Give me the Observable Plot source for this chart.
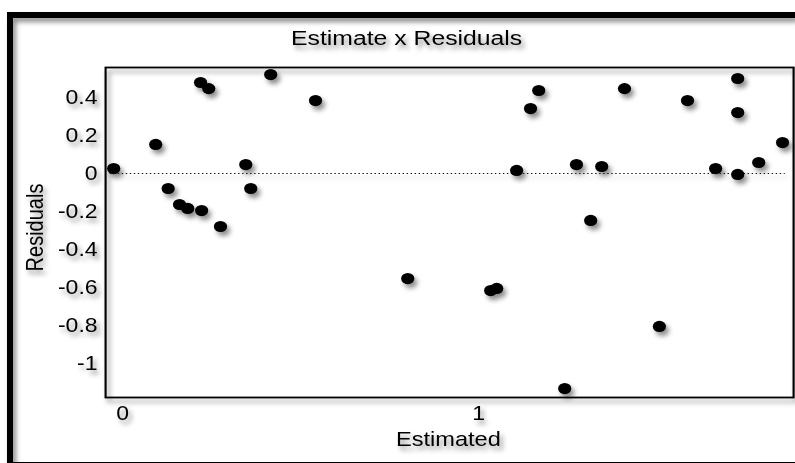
<!DOCTYPE html>
<html><head><meta charset="utf-8">
<script src="https://cdn.jsdelivr.net/npm/d3@7"></script>
<script src="https://cdn.jsdelivr.net/npm/@observablehq/plot@0.6"></script>
<style>
html,body{margin:0;padding:0;background:#fff;}
#wrap{position:relative;width:795px;height:463px;overflow:hidden;filter:drop-shadow(3px 4px 2.5px rgba(0,0,0,0.45));}
#border{position:absolute;left:7px;top:12px;width:820px;height:456px;border:6.5px solid #000;box-sizing:border-box;}
#chart{position:absolute;left:0;top:0;width:795px;height:463px;}
</style></head>
<body><div id="wrap"><div id="border"></div><div id="chart"></div></div>
<script>
const titleText = "Estimate x Residuals";
const xLabelText = "Estimated";
const yLabelText = "Residuals";

const estimated = [-0.025, 0.093, 0.128, 0.160, 0.183, 0.222, 0.219, 0.242, 0.275, 0.346, 0.360, 0.416, 0.542, 0.801,
  1.034, 1.051, 1.107, 1.146, 1.169, 1.242, 1.275, 1.315, 1.346, 1.410, 1.508, 1.587, 1.666, 1.728, 1.728, 1.728, 1.787, 1.854];
const residuals = [0.026, 0.153, -0.079, -0.163, -0.184, -0.195, 0.479, 0.447, -0.279, 0.047, -0.079, 0.521, 0.384, -0.553,
  -0.616, -0.605, 0.016, 0.342, 0.437, -1.132, 0.047, -0.247, 0.037, 0.447, -0.805, 0.384, 0.026, 0.500, 0.321, -0.005, 0.058, 0.163];

const xTicks = [0, 1];
const xTickLabels = ["0", "1"];
const yTicks = [0.4, 0.2, 0, -0.2, -0.4, -0.6, -0.8, -1];
const yTickLabels = ["0.4", "0.2", "0", "-0.2", "-0.4", "-0.6", "-0.8", "-1"];

const points = estimated.map((e, i) => ({est: e, res: residuals[i]}));

const S = 1.18; // horizontal stretch of the original rendering
const W = 795 / S;

const svg = Plot.plot({
  width: W,
  height: 463,
  marginLeft: 105 / S,
  marginRight: 2 / S,
  marginTop: 67,
  marginBottom: 66,
  style: {fontFamily: "'Liberation Sans', Arial, sans-serif", fontSize: "19.5px", background: "transparent", color: "#000"},
  x: {domain: [-0.0478, 1.885], ticks: xTicks, tickFormat: d => xTickLabels[xTicks.indexOf(d)], tickSize: 0, tickPadding: 9, label: null},
  y: {domain: [-1.179, 0.558], ticks: yTicks, tickFormat: d => yTickLabels[yTicks.indexOf(d)], tickSize: 0, tickPadding: 6.8, label: null},
  marks: [
    Plot.frame({stroke: "#000", strokeWidth: 1.8}),
    Plot.ruleY([0], {stroke: "#111", strokeDasharray: "1.2,2.2", strokeWidth: 1.2, insetLeft: 4, insetRight: 7}),
    Plot.dot(points, {x: "est", y: "res", r: 5.6, fill: "#000"}),
    Plot.text([titleText], {text: d => d, frameAnchor: "top", textAnchor: "middle", dx: -36.4, dy: -29.5, fontSize: 21, lineAnchor: "middle", fill: "#000"}),
    Plot.text([xLabelText], {text: d => d, frameAnchor: "bottom", textAnchor: "middle", dx: -1, dy: 42, fontSize: 20, lineAnchor: "middle", fill: "#000"}),
    Plot.text([yLabelText], {text: d => d, frameAnchor: "left", textAnchor: "middle", dx: -59.3, dy: -5, rotate: -90, fontSize: 20, lineAnchor: "middle", fill: "#000"})
  ]
});

svg.setAttribute("width", 795);
svg.setAttribute("height", 463);
svg.setAttribute("preserveAspectRatio", "none");
svg.style.width = "795px";
svg.style.height = "463px";
svg.style.maxWidth = "none";
document.getElementById("chart").appendChild(svg);
</script></body></html>
